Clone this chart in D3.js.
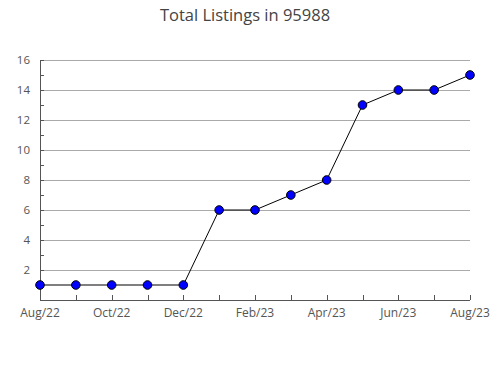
<!DOCTYPE html>
<html>
<head>
<meta charset="utf-8">
<script src="https://cdn.jsdelivr.net/npm/d3@7"></script>
<style>
body { margin: 0; background: #fff; }
text { font-family: "Open Sans", sans-serif; }
</style>
</head>
<body>
<svg id="chart" width="490" height="380"></svg>
<script>
var months = ['Aug/22','Sep/22','Oct/22','Nov/22','Dec/22','Jan/23','Feb/23','Mar/23','Apr/23','May/23','Jun/23','Jul/23','Aug/23'];
var listings = [1, 1, 1, 1, 1, 6, 6, 7, 8, 13, 14, 14, 15];
var yTicks = [2, 4, 6, 8, 10, 12, 14, 16];

var svg = d3.select('#chart');
var plotLeft = 40, plotRight = 470, plotTop = 60, plotBottom = 300;

var x = d3.scalePoint().domain(months).range([plotLeft, plotRight]);
var y = d3.scaleLinear().domain([0, 16]).range([plotBottom, plotTop]);

svg.append('text')
  .attr('x', 245).attr('y', 21)
  .attr('text-anchor', 'middle')
  .style('font-size', '16.5px')
  .style('fill', '#444')
  .text('Total Listings in 95988');

// grid lines
svg.selectAll('.grid')
  .data(yTicks)
  .enter().append('line')
  .attr('class', 'grid')
  .attr('x1', plotLeft).attr('x2', plotRight)
  .attr('y1', function(d) { return y(d); })
  .attr('y2', function(d) { return y(d); })
  .style('stroke', '#aaa')
  .style('stroke-width', 1)
  .attr('shape-rendering', 'crispEdges');

// y axis with minor ticks
var yAxis = d3.axisRight(y)
  .tickValues(d3.range(1, 17))
  .tickSize(4)
  .tickFormat('');
var gy = svg.append('g').attr('transform', 'translate(' + plotLeft + ',0)').call(yAxis);
gy.select('.domain').attr('d', 'M0,' + plotTop + 'V' + plotBottom);
gy.selectAll('line, path').style('stroke', '#555').attr('shape-rendering', 'crispEdges');

svg.selectAll('.ylab')
  .data(yTicks)
  .enter().append('text')
  .attr('class', 'ylab')
  .attr('x', 30)
  .attr('y', function(d) { return y(d); })
  .attr('dy', '0.35em')
  .attr('text-anchor', 'end')
  .style('font-size', '11.5px')
  .style('fill', '#555')
  .text(function(d) { return d; });

// x axis
var xAxis = d3.axisTop(x)
  .tickSize(5)
  .tickFormat('');
var gx = svg.append('g').attr('transform', 'translate(0,' + plotBottom + ')').call(xAxis);
gx.select('.domain').attr('d', 'M' + plotLeft + ',0H' + plotRight);
gx.selectAll('line, path').style('stroke', '#555').attr('shape-rendering', 'crispEdges');

svg.selectAll('.xlab')
  .data(months.filter(function(d, i) { return i % 2 === 0; }))
  .enter().append('text')
  .attr('class', 'xlab')
  .attr('x', function(d) { return x(d); })
  .attr('y', 317)
  .attr('text-anchor', 'middle')
  .style('font-size', '12px')
  .style('fill', '#555')
  .text(function(d) { return d; });

var line = d3.line()
  .x(function(d, i) { return x(months[i]); })
  .y(function(d) { return y(d); });

svg.append('path')
  .datum(listings)
  .attr('d', line)
  .style('fill', 'none')
  .style('stroke', '#000')
  .style('stroke-width', 1);

svg.selectAll('.pt')
  .data(listings)
  .enter().append('circle')
  .attr('class', 'pt')
  .attr('cx', function(d, i) { return x(months[i]); })
  .attr('cy', function(d) { return y(d); })
  .attr('r', 4.3)
  .style('fill', '#0000ff')
  .style('stroke', '#000')
  .style('stroke-width', 1);
</script>
</body>
</html>
